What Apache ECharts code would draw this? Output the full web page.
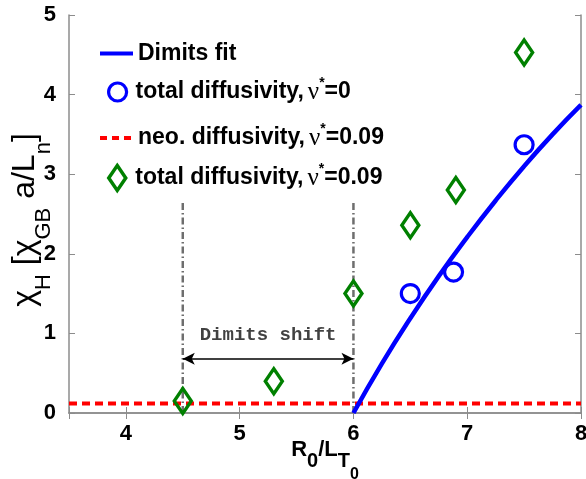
<!DOCTYPE html>
<html>
<head>
<meta charset="utf-8">
<script src="https://cdn.jsdelivr.net/npm/echarts@6/dist/echarts.min.js"></script>
<style>
html,body{margin:0;padding:0;background:#fff;}
#chart{width:586px;height:479px;}
</style>
</head>
<body>
<div id="chart"></div>
<script>
// ---- data ----
var fitX = [6.0, 6.25, 6.5, 6.75, 7.0, 7.25, 7.5, 7.75, 8.0];
var fitY = [0.0, 0.62, 1.19, 1.72, 2.21, 2.67, 3.10, 3.50, 3.87];
var totalNu0X = [6.5, 6.88, 7.5];
var totalNu0Y = [1.50, 1.77, 3.37];
var neoX = [3.5, 8.0];
var neoY = [0.12, 0.12];
var totalNu09X = [4.5, 5.3, 6.0, 6.5, 6.9, 7.5];
var totalNu09Y = [0.15, 0.40, 1.50, 2.36, 2.80, 4.53];
var shiftStart = 4.5, shiftEnd = 6.0;
var guideY = [0, 2.65];
var arrowY = 0.68;
var shiftLabel = 'Dimits shift';
var shiftLabelPos = [5.25, 0.98];
var legendNames = ['Dimits fit', 'total diffusivity, nu0', 'neo. diffusivity, nu09', 'total diffusivity, nu09'];
var xTicks = [4, 5, 6, 7, 8];
var yTicks = [0, 1, 2, 3, 4, 5];

function pairs(xs, ys){ return xs.map(function(x,i){ return [x, ys[i]]; }); }

var SANS = '"Liberation Sans", Arial, sans-serif';
var gray = '#8c8c8c';
var BLUE = '#0000ff', GREEN = '#008000', RED = '#ff0000';

var legendRich = {
  nu: {fontFamily: '"Liberation Serif", serif', fontWeight: 'normal', fontSize: 25, color: '#000', padding: [0,0,0,4], verticalAlign: 'middle'},
  st: {fontFamily: SANS, fontWeight: 'bold', fontSize: 14, color: '#000', padding: [0,0,18,0], verticalAlign: 'middle'},
  b: {fontFamily: SANS, fontWeight: 'bold', fontSize: 23, color: '#000', verticalAlign: 'middle'},
  bp: {fontFamily: SANS, fontWeight: 'bold', fontSize: 23, color: '#000', verticalAlign: 'middle', padding: [0,0,0,4]}
};
var legendText = {
  'Dimits fit': '{b|Dimits fit}',
  'total diffusivity, nu0': '{bp|total diffusivity,}{nu|ν}{st|*}{b|=0}',
  'neo. diffusivity, nu09': '{b|neo. diffusivity,}{nu|ν}{st|*}{b|=0.09}',
  'total diffusivity, nu09': '{bp|total diffusivity,}{nu|ν}{st|*}{b|=0.09}'
};
var legendTops = [42, 76, 122, 162];

function makeLegend(i, extra){
  var base = {
    data: [legendNames[i]],
    orient: 'vertical',
    left: 98,
    top: legendTops[i],
    itemWidth: 33,
    itemHeight: 18,
    itemGap: 0,
    padding: 0,
    selectedMode: false,
    formatter: function(n){ return legendText[n]; },
    textStyle: {fontFamily: SANS, fontWeight: 'bold', fontSize: 23, color: '#000', rich: legendRich}
  };
  for (var k in extra) base[k] = extra[k];
  return base;
}

var chart = echarts.init(document.getElementById('chart'), null, {renderer: 'canvas'});
var option = {
  animation: false,
  backgroundColor: '#fff',
  grid: {left: 69, right: 5, top: 15, bottom: 66, containLabel: false, outerBoundsMode: 'none'},
  legend: [
    makeLegend(0, {data: [{name: legendNames[0], itemStyle: {color: 'rgba(0,0,0,0)', borderWidth: 0}, lineStyle: {width: 4, color: BLUE}}]}),
    makeLegend(1, {left: 107, itemWidth: 18, data: [{name: legendNames[1], itemStyle: {color: 'rgba(0,0,0,0)', borderColor: BLUE, borderWidth: 3.2}}]}),
    makeLegend(2, {data: [{name: legendNames[2], itemStyle: {color: 'rgba(0,0,0,0)', borderWidth: 0}, lineStyle: {width: 4, color: RED, type: [7,5]}}]}),
    makeLegend(3, {left: 107, itemWidth: 18, itemHeight: 25, data: [{name: legendNames[3], icon: 'path://M8.5,0 L17,12.5 L8.5,25 L0,12.5 Z', itemStyle: {color: 'rgba(0,0,0,0)', borderColor: GREEN, borderWidth: 3.5}}]})
  ],
  xAxis: [{
    type: 'value', min: 3.5, max: 8, splitNumber: 5,
    axisLine: {show: true, lineStyle: {color: gray, width: 1.5}},
    axisTick: {show: true, inside: true, length: 6, lineStyle: {color: gray, width: 1}},
    splitLine: {show: false},
    axisLabel: {
      margin: 10, color: '#000', fontFamily: SANS, fontWeight: 'bold', fontSize: 22,
      formatter: function(v){ return xTicks.indexOf(v) >= 0 ? String(v) : ''; }
    },
    name: '{b|R}{s|0}{b|/L}{s|T}{ss|0}',
    nameLocation: 'middle',
    nameGap: 24,
    nameMoveOverlap: false,
    nameTextStyle: {
      rich: {
        b: {fontFamily: SANS, fontWeight: 'bold', fontSize: 22, lineHeight: 26, color: '#000', verticalAlign: 'middle'},
        s: {fontFamily: SANS, fontWeight: 'bold', fontSize: 20, lineHeight: 24, color: '#000', padding: [22,0,0,0], verticalAlign: 'middle'},
        ss: {fontFamily: SANS, fontWeight: 'bold', fontSize: 16, lineHeight: 18, color: '#000', padding: [50,0,0,0], verticalAlign: 'middle'}
      }
    }
  }, {
    type: 'value', min: 3.5, max: 8, splitNumber: 5, position: 'top',
    axisLine: {show: true, lineStyle: {color: gray, width: 1.5}},
    axisTick: {show: true, inside: true, length: 6, lineStyle: {color: gray, width: 1}},
    splitLine: {show: false},
    axisLabel: {show: false}
  }],
  yAxis: [{
    type: 'value', min: 0, max: 5, interval: 1,
    axisLine: {show: true, lineStyle: {color: gray, width: 1.5}},
    axisTick: {show: true, inside: true, length: 6, lineStyle: {color: gray, width: 1}},
    splitLine: {show: false},
    axisLabel: {
      margin: 13, color: '#000', fontFamily: SANS, fontWeight: 'bold', fontSize: 22,
      formatter: function(v){ return yTicks.indexOf(v) >= 0 ? String(v) : ''; }
    },
    name: '{a|χ}{s|H}{a| [χ}{s|GB}{a| a/L}{s|n}{z|]}',
    nameLocation: 'middle',
    nameGap: 26,
    nameMoveOverlap: false,
    nameTextStyle: {
      rich: {
        a: {fontFamily: SANS, fontWeight: 'normal', fontSize: 32, lineHeight: 36, color: '#000', verticalAlign: 'middle'},
        z: {fontFamily: SANS, fontWeight: 'normal', fontSize: 32, lineHeight: 36, color: '#000', verticalAlign: 'middle', padding: [0,12,0,0]},
        s: {fontFamily: SANS, fontWeight: 'normal', fontSize: 22, lineHeight: 24, color: '#000', padding: [37,0,0,0], verticalAlign: 'middle'}
      }
    }
  }, {
    type: 'value', min: 0, max: 5, interval: 1, position: 'right',
    axisLine: {show: true, lineStyle: {color: gray, width: 1.5}},
    axisTick: {show: true, inside: true, length: 6, lineStyle: {color: gray, width: 1}},
    splitLine: {show: false},
    axisLabel: {show: false}
  }],
  series: [
    {
      name: 'guide1', type: 'line', data: pairs([shiftStart, shiftStart], guideY),
      symbol: 'none', silent: true, z: 1,
      lineStyle: {color: '#6e6e6e', width: 2.5, type: [7,3,1.5,3]}
    },
    {
      name: 'guide2', type: 'line', data: pairs([shiftEnd, shiftEnd], guideY),
      symbol: 'none', silent: true, z: 1,
      lineStyle: {color: '#6e6e6e', width: 2.5, type: [7,3,1.5,3]},
      markLine: {
        silent: true, animation: false,
        symbol: ['arrow', 'arrow'], symbolSize: [9, 12],
        label: {show: false},
        lineStyle: {color: '#000', width: 1.5, type: 'solid'},
        data: [[{coord: [shiftStart, arrowY]}, {coord: [shiftEnd, arrowY]}]]
      }
    },
    {
      name: 'shiftLabel', type: 'scatter', data: [shiftLabelPos], symbolSize: 0, silent: true,
      label: {show: true, position: 'inside', formatter: shiftLabel,
        fontFamily: '"Liberation Mono", "Courier New", monospace', fontWeight: 'bold', fontSize: 19, color: '#111'}
    },
    {
      name: 'neo. diffusivity, nu09', type: 'line', data: pairs(neoX, neoY),
      symbol: 'none', z: 2,
      lineStyle: {color: RED, width: 4, type: [8,5]},
      itemStyle: {color: RED}
    },
    {
      name: 'Dimits fit', type: 'line', data: pairs(fitX, fitY),
      symbol: 'none', smooth: true, z: 3,
      lineStyle: {color: BLUE, width: 4.5},
      itemStyle: {color: BLUE}
    },
    {
      name: 'total diffusivity, nu0', type: 'scatter', data: pairs(totalNu0X, totalNu0Y),
      symbol: 'circle', symbolSize: 18, z: 4,
      itemStyle: {color: 'rgba(0,0,0,0)', borderColor: BLUE, borderWidth: 3.2, opacity: 1}
    },
    {
      name: 'total diffusivity, nu09', type: 'scatter', data: pairs(totalNu09X, totalNu09Y),
      symbol: 'diamond', symbolSize: [17, 25], z: 4,
      itemStyle: {color: 'rgba(0,0,0,0)', borderColor: GREEN, borderWidth: 3.5, opacity: 1}
    }
  ]
};
chart.setOption(option);
</script>
</body>
</html>
